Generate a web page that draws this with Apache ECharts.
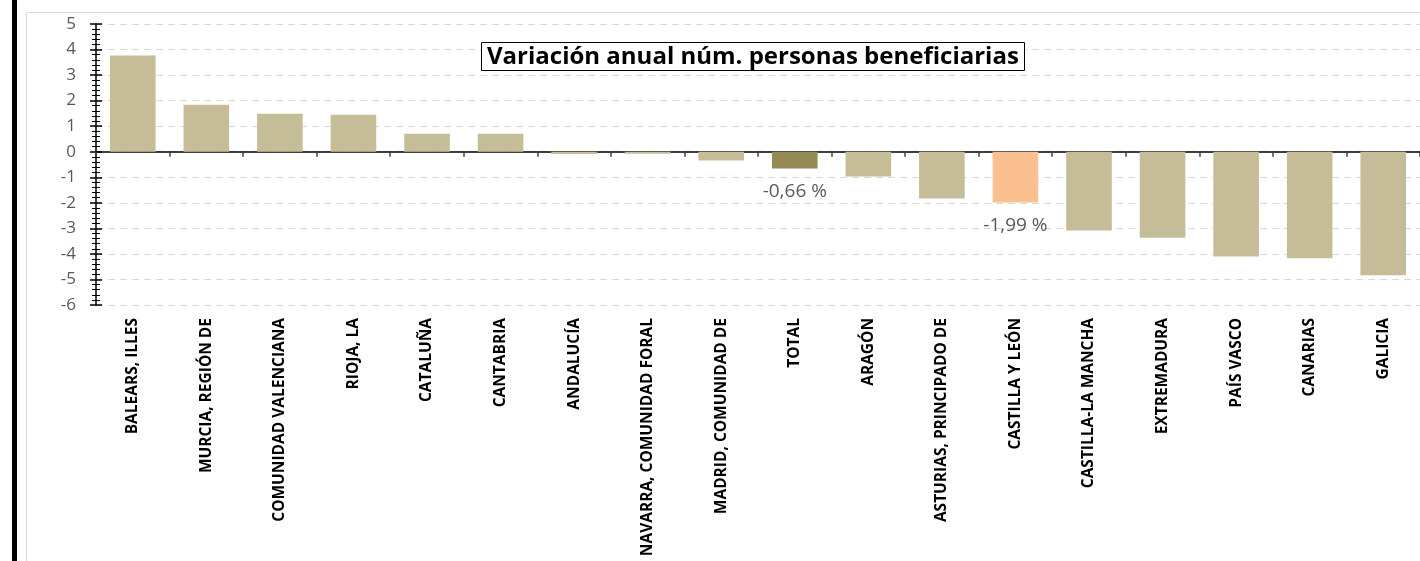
<!DOCTYPE html>
<html lang="es">
<head>
    <meta charset="UTF-8">
    <title>Variación anual núm. personas beneficiarias</title>
    <style>
        html, body { margin: 0; padding: 0; background: #fff; }
        #chart { width: 1420px; height: 561px; }
    </style>
</head>
<body>
    <div id="chart"></div>
    <script src="https://cdn.jsdelivr.net/npm/echarts@6/dist/echarts.min.js"></script>
    <script type="text/javascript">
        // datos
        var categories = ['BALEARS, ILLES', 'MURCIA, REGIÓN DE', 'COMUNIDAD VALENCIANA', 'RIOJA, LA', 'CATALUÑA',
            'CANTABRIA', 'ANDALUCÍA', 'NAVARRA, COMUNIDAD FORAL', 'MADRID, COMUNIDAD DE', 'TOTAL', 'ARAGÓN',
            'ASTURIAS, PRINCIPADO DE', 'CASTILLA Y LEÓN', 'CASTILLA-LA MANCHA', 'EXTREMADURA', 'PAÍS VASCO',
            'CANARIAS', 'GALICIA'];
        var values = [3.77, 1.84, 1.49, 1.45, 0.70, 0.70, -0.09, -0.08, -0.34, -0.66, -0.97, -1.83, -1.99,
            -3.08, -3.37, -4.10, -4.17, -4.84];
        var labelled = ['TOTAL', 'CASTILLA Y LEÓN'];  // barras con etiqueta de valor
        var yTicks = { min: -6, max: 5, step: 1 };

        var colorBase = '#C4BD97';
        var colorTotal = '#948A54';
        var colorCyL = '#FAC090';
        var font = 'Open Sans';

        var chart = echarts.init(document.getElementById('chart'));

        var barData = values.map(function (v, i) {
            var c = categories[i];
            var color = colorBase;
            if (c === 'TOTAL') color = colorTotal;
            if (c === 'CASTILLA Y LEÓN') color = colorCyL;
            var item = { value: v, itemStyle: { color: color } };
            if (labelled.indexOf(c) >= 0) {
                item.label = {
                    show: true,
                    position: 'bottom',
                    distance: 14,
                    fontSize: 19,
                    color: '#595959',
                    fontFamily: font,
                    formatter: function (p) {
                        return p.value.toFixed(2).replace('.', ',') + ' %';
                    }
                };
            }
            return item;
        });

        var option = {
            animation: false,
            backgroundColor: '#fff',
            title: {
                text: 'Variación anual núm. personas beneficiarias',
                left: 481,
                top: 42,
                padding: [3, 6, 2, 6],
                borderColor: '#000',
                borderWidth: 1,
                backgroundColor: '#fff',
                textStyle: {
                    fontFamily: font,
                    fontWeight: 'bold',
                    fontSize: 24,
                    color: '#000'
                }
            },
            graphic: [
                // marco gris del gráfico
                { type: 'rect', shape: { x: 26.5, y: 12.5, width: 1500, height: 600 }, style: { fill: null, stroke: '#d9d9d9', lineWidth: 1 }, z: -10 },
                // borde negro a la izquierda
                { type: 'rect', shape: { x: 12, y: 0, width: 5, height: 561 }, style: { fill: '#000' }, z: 10 }
            ],
            grid: {
                left: 96,
                top: 24,
                width: 1331,
                height: 281
            },
            xAxis: [
                {
                    type: 'category',
                    data: categories,
                    axisLine: { onZero: true, lineStyle: { color: '#000', width: 1.5 } },
                    axisTick: { show: true, interval: 0, alignWithLabel: false, length: 5, lineStyle: { color: '#404040', width: 1.5 } },
                    axisLabel: { show: false },
                    splitLine: { show: false }
                },
                {
                    type: 'category',
                    data: categories,
                    position: 'bottom',
                    axisLine: { show: false, onZero: false },
                    axisTick: { show: false },
                    axisLabel: {
                        interval: 0,
                        rotate: 90,
                        margin: 13,
                        fontFamily: font,
                        fontWeight: 'bold',
                        fontSize: 15.5,
                        color: '#000'
                    }
                }
            ],
            yAxis: [
                {
                    type: 'value',
                    min: yTicks.min,
                    max: yTicks.max,
                    interval: yTicks.step,
                    axisLine: { show: true, lineStyle: { color: '#000', width: 1.5 } },
                    axisTick: { show: true, length: 6, lineStyle: { color: '#000', width: 1.5 } },
                    minorTick: { show: true, splitNumber: 5, length: 4, lineStyle: { color: '#000', width: 1 } },
                    axisLabel: {
                        margin: 20,
                        fontFamily: font,
                        fontSize: 17,
                        color: '#595959'
                    },
                    splitLine: { show: true, lineStyle: { color: '#d9d9d9', type: [7, 5], width: 1 } }
                },
                {
                    type: 'value',
                    min: yTicks.min,
                    max: yTicks.max,
                    interval: yTicks.step,
                    position: 'left',
                    axisLine: { show: false },
                    axisTick: { show: true, inside: true, length: 6, lineStyle: { color: '#000', width: 1.5 } },
                    minorTick: { show: true, splitNumber: 5, length: 4, lineStyle: { color: '#000', width: 1 } },
                    axisLabel: { show: false },
                    splitLine: { show: false }
                }
            ],
            series: [
                {
                    type: 'bar',
                    data: barData,
                    barWidth: '62%'
                }
            ]
        };

        chart.setOption(option);
    </script>
</body>
</html>
